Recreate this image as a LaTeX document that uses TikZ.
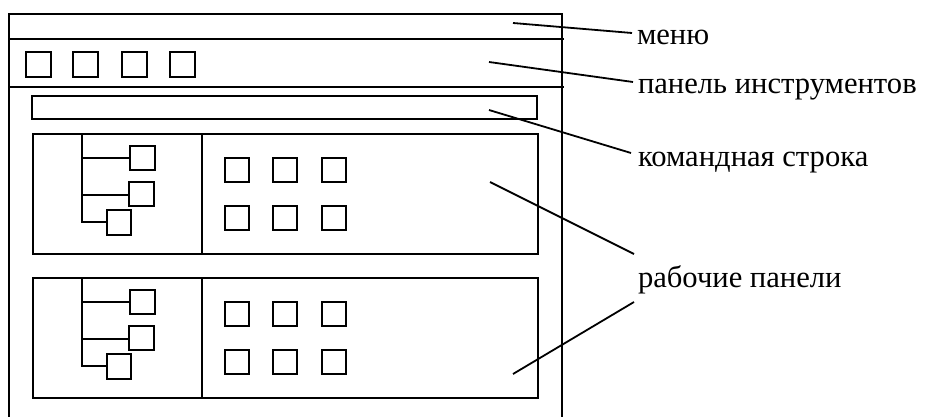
\documentclass[tikz,border=0pt]{standalone}
\usepackage{fontspec}
\setmainfont{Liberation Serif}
\begin{document}
\begin{tikzpicture}[x=1pt,y=-1pt,line width=2pt,
  lbl/.style={anchor=base west,inner sep=0pt,font=\fontsize{30.6}{36}\selectfont},
  leader/.style={line width=1.8pt}]
\useasboundingbox (0,0) rectangle (929,417);
% window frame (open at bottom)
\draw (9,420) -- (9,14) -- (562,14) -- (562,420);
\draw (9,39) -- (564,39);
\draw (9,87) -- (564,87);
% toolbar buttons
\foreach \x in {26,73,122,170}
  \draw (\x,52) rectangle ++(25,25);
% command line
\draw (32,96) rectangle (537,119);
% two work panels
\foreach \dy in {0,144}{
\begin{scope}[shift={(0,\dy)}]
  \draw (33,134) rectangle (538,254);
  \draw (202,134) -- (202,254);
  % tree
  \draw (82,134) -- (82,222) -- (107,222);
  \draw (82,158) -- (130,158);
  \draw (82,195) -- (129,195);
  \draw (130,146) rectangle ++(25,24);
  \draw (129,182) rectangle ++(25,24);
  \draw (107,210) rectangle ++(24,25);
  % icons
  \foreach \x in {225,273,322}
    \foreach \y in {158,206}
      \draw (\x,\y) rectangle ++(24,24);
\end{scope}}
% labels
\node[lbl] (menu) at (636,45) {меню};
\node[lbl] (tools) at (637,94) {панель инструментов};
\node[lbl] (cmd) at (637,167) {командная строка};
\node[lbl] (work) at (637,287) {рабочие панели};
% leader endpoints
\coordinate (pmenu) at (513,23);
\coordinate (ptools) at (489,62);
\coordinate (pcmd) at (489,110);
\coordinate (pw1) at (490,182);
\coordinate (pw2) at (513,374);
\coordinate (emenu) at (632,33);
\coordinate (etools) at (633,82);
\coordinate (ecmd) at (631,153);
\coordinate (ew1) at (634,254);
\coordinate (ew2) at (634,302);
\draw[leader] (pmenu) -- (emenu);
\draw[leader] (ptools) -- (etools);
\draw[leader] (pcmd) -- (ecmd);
\draw[leader] (pw1) -- (ew1);
\draw[leader] (pw2) -- (ew2);
\end{tikzpicture}
\end{document}
